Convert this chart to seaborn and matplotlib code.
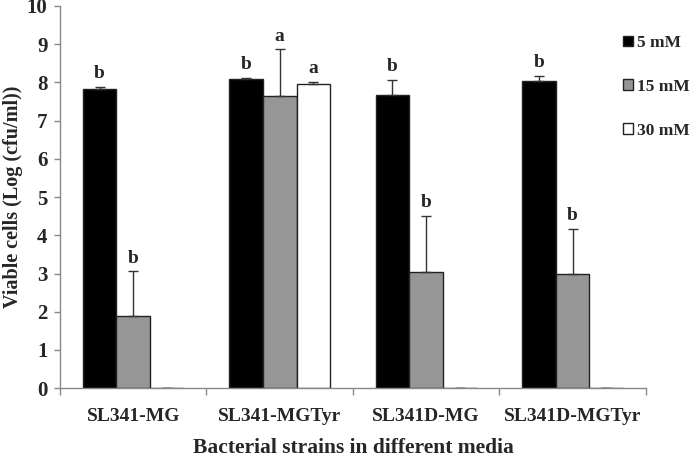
import seaborn as sns
import matplotlib.pyplot as plt
import pandas as pd
from matplotlib.patches import Patch

# datos
strains = ['SL341-MG', 'SL341-MGTyr', 'SL341D-MG', 'SL341D-MGTyr']
concs = ['5 mM', '15 mM', '30 mM']
mean_5 = [7.82, 8.09, 7.68, 8.04]
mean_15 = [1.88, 7.64, 3.05, 2.98]
mean_30 = [0.0, 7.95, 0.0, 0.0]
err_5 = [0.06, 0.03, 0.39, 0.13]
err_15 = [1.18, 1.23, 1.46, 1.19]
err_30 = [0.0, 0.06, 0.0, 0.0]
letters_5 = ['b', 'b', 'b', 'b']
letters_15 = ['b', 'a', 'b', 'b']
letters_30 = ['', 'a', '', '']

colors = ['#000000', '#969696', '#ffffff']

rows = []
for c, vals in zip(concs, [mean_5, mean_15, mean_30]):
    for s, v in zip(strains, vals):
        rows.append({'strain': s, 'conc': c, 'value': v})
df = pd.DataFrame(rows)

sns.set_style('white')
plt.rcParams['font.family'] = ['Liberation Serif', 'DejaVu Serif']
plt.rcParams['font.weight'] = 'bold'

fig = plt.figure(figsize=(7, 4.61), dpi=100)
ax = fig.add_axes([0.0857, 0.158, 0.837, 0.829])

sns.barplot(data=df, x='strain', y='value', hue='conc', order=strains,
            hue_order=concs, palette=colors, width=0.69, errorbar=None,
            edgecolor='#222222', linewidth=1, ax=ax, legend=False)

# barras de error (solo hacia arriba) y letras
errs = [err_5, err_15, err_30]
letters = [letters_5, letters_15, letters_30]
means = [mean_5, mean_15, mean_30]
bar_conts = list(ax.containers)
for i, cont in enumerate(bar_conts):
    xs = [p.get_x() + p.get_width() / 2 for p in cont.patches]
    ax.errorbar(xs, means[i], yerr=[[0] * 4, errs[i]], fmt='none',
                ecolor='#333333', elinewidth=1, capsize=3.5, capthick=1)
    for x, m, e, t in zip(xs, means[i], errs[i], letters[i]):
        if t:
            ax.text(x, m + e + 0.12, t, ha='center', va='bottom',
                    fontsize=14, fontweight='bold')

ax.set_ylim(0, 10)
ax.set_xlim(-0.5, 3.5)
ax.set_yticks(range(0, 11))
ax.set_xticks([-0.5, 0.5, 1.5, 2.5, 3.5], minor=True)
ax.tick_params(axis='x', which='major', length=0, pad=14, labelsize=14)
ax.tick_params(axis='x', which='minor', length=5, color='#888888', width=1,
               direction='out', bottom=True)
ax.tick_params(axis='y', length=4, color='#888888', width=1, direction='out',
               left=True, labelsize=15, pad=5)
for lab in ax.get_xticklabels() + ax.get_yticklabels():
    lab.set_fontweight('bold')

for side in ['top', 'right']:
    ax.spines[side].set_visible(False)
for side in ['left', 'bottom']:
    ax.spines[side].set_color('#888888')
    ax.spines[side].set_linewidth(1)

ax.set_ylabel('Viable cells (Log (cfu/ml))', fontsize=14.5, fontweight='bold',
              labelpad=3)
ax.set_xlabel('Bacterial strains in different media', fontsize=15.5,
              fontweight='bold', labelpad=10)

handles = [Patch(facecolor=c, edgecolor='#222222', linewidth=1) for c in colors]
ax.legend(handles, concs, loc='upper left', bbox_to_anchor=(0.935, 0.965),
          frameon=False, handlelength=0.55, handleheight=0.55,
          handletextpad=0.25, labelspacing=1.6,
          prop={'weight': 'bold', 'size': 12.5})

plt.savefig('out.png', dpi=100)
plt.close()
